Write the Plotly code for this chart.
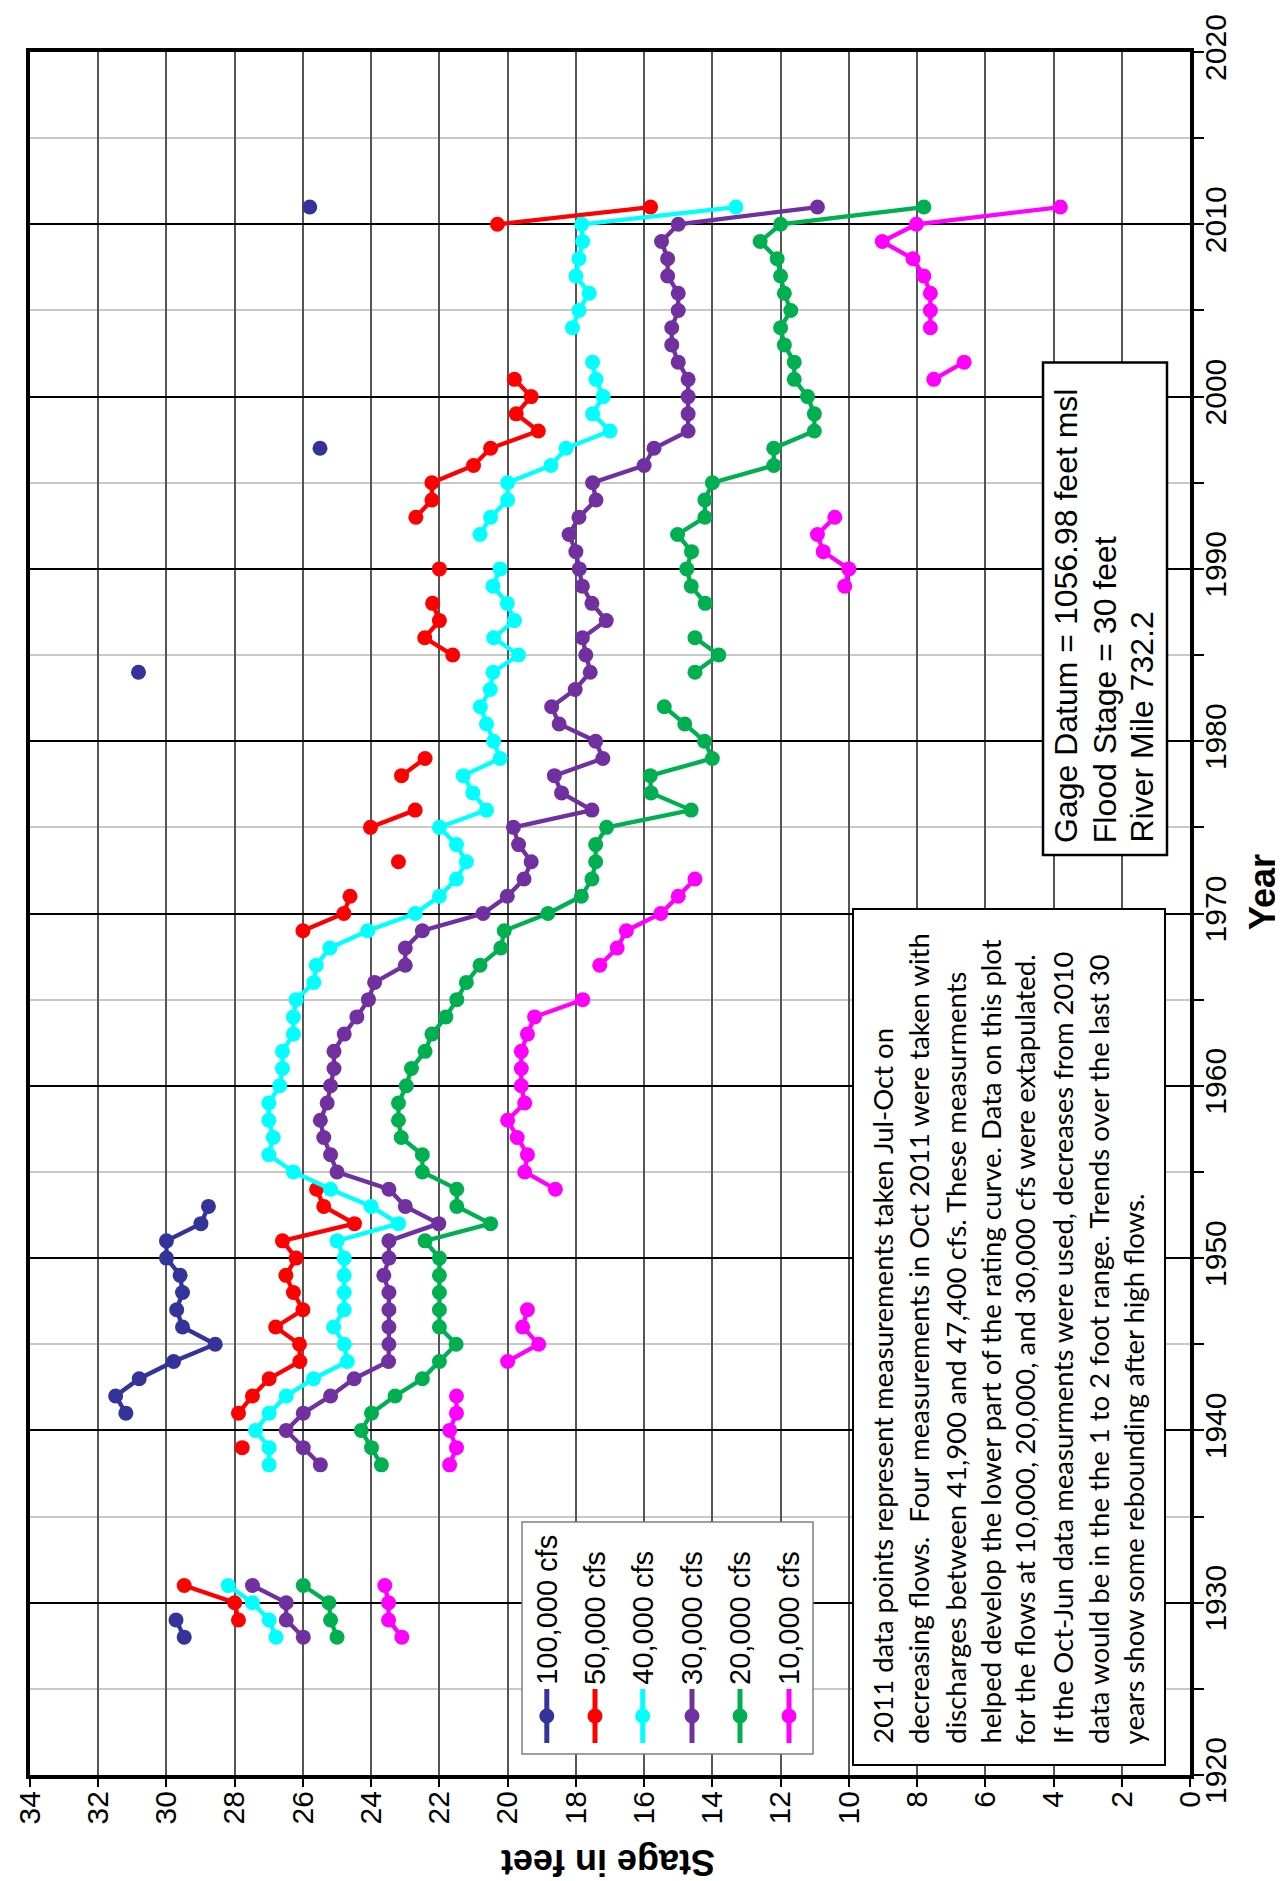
import plotly.graph_objects as go

# ---------------- data ----------------
series_names = ["100,000 cfs", "50,000 cfs", "40,000 cfs", "30,000 cfs", "20,000 cfs", "10,000 cfs"]
series_colors = ["#333399", "#FF0000", "#00FFFF", "#7030A0", "#00B050", "#FF00FF"]

years_100k = [1928, 1929, None, 1941, 1942, 1943, 1944, 1945, 1946, 1947, 1948, 1949, 1950, 1951, 1952, 1953,
              None, 1984, None, 1997, None, 2011]
stage_100k = [29.48, 29.72, None, 31.19, 31.49, 30.8, 29.79, 28.57, 29.53, 29.7, 29.53, 29.6, 30.0, 30.0, 28.99, 28.77,
              None, 30.82, None, 25.5, None, 25.8]

years_50k = [1929, 1930, 1931, None, 1939, None, 1941, 1942, 1943, 1944, 1945, 1946, 1947, 1948, 1949, 1950, 1951,
             1952, 1953, 1954, None, 1969, 1970, 1971, None, 1973, None, 1975, 1976, None, 1978, 1979, None,
             1985, 1986, 1987, 1988, None, 1990, None, 1993, 1994, 1995, 1996, 1997, 1998, 1999, 2000, 2001,
             None, 2010, 2011]
stage_50k = [27.89, 28.0, 29.48, None, 27.78, None, 27.89, 27.48, 26.99, 26.09, 26.1, 26.8, 26.0, 26.28, 26.5, 26.2,
             26.6, 24.49, 25.39, 25.6, None, 26.0, 24.8, 24.62, None, 23.2, None, 24.02, 22.71, None, 23.11, 22.42,
             None, 21.61, 22.43, 22.0, 22.2, None, 22.0, None, 22.69, 22.22, 22.22, 21.0, 20.5, 19.1, 19.75,
             19.31, 19.8, None, 20.3, 15.81]

years_40k = [1928, 1929, 1930, 1931, None] + list(range(1938, 1991)) + [None] + list(range(1992, 2003)) + [None] + \
    list(range(2004, 2012))
stage_40k = [26.79, 26.99, 27.48, 28.19, None,
             26.99, 26.99, 27.39, 26.99, 26.49, 25.69, 24.7, 24.79, 25.1, 24.79, 24.79, 24.79, 24.79, 25.0,
             23.2, 24.0, 25.19, 26.28, 27.0, 26.87, 27.0, 27.0, 26.68, 26.6, 26.6, 26.28, 26.28, 26.2, 25.68,
             25.61, 25.21, 24.1, 22.71, 22.0, 21.5, 21.21, 21.5, 22.0, 20.62, 21.02, 21.3, 20.22, 20.41, 20.62,
             20.8, 20.51, 20.43, 19.68, 20.41, 19.8, 20.01, 20.43, 20.22, None,
             20.81, 20.5, 20.0, 20.0, 18.73, 18.29, 17.0, 17.51, 17.2, 17.41, 17.51, None,
             18.1, 17.91, 17.61, 18.0, 17.91, 17.8, 17.83, 13.31]

years_30k = [1928, 1929, 1930, 1931, None] + list(range(1938, 2012))
stage_30k = [25.99, 26.49, 26.49, 27.48, None,
             25.49, 25.99, 26.49, 25.99, 25.19, 24.5, 23.49, 23.48, 23.48, 23.48, 23.48, 23.63, 23.48, 23.48,
             22.02, 23.0, 23.48, 25.0, 25.19, 25.39, 25.49, 25.29, 25.19, 25.09, 25.09, 24.79, 24.42, 24.08,
             23.9, 23.0, 23.0, 22.5, 20.72, 20.01, 19.52, 19.31, 19.68, 19.83, 17.53, 18.42, 18.63, 17.21,
             17.42, 18.49, 18.71, 18.02, 17.58, 17.71, 17.81, 17.11, 17.53, 17.81, 17.9, 18.0, 18.2, 17.91,
             17.41, 17.51, 16.0, 15.71, 14.71, 14.71, 14.71, 14.71, 15.0, 15.19, 15.19, 15.0, 15.0, 15.31,
             15.31, 15.49, 15.0, 10.92]

years_20k = [1928, 1929, 1930, 1931, None] + list(range(1938, 1983)) + [None, 1984, 1985, 1986, None] + \
    list(range(1988, 2012))
stage_20k = [25.0, 25.19, 25.24, 25.99, None,
             23.7, 23.99, 24.29, 23.99, 23.3, 22.5, 22.0, 21.51, 22.0, 22.0, 22.0, 22.0, 22.0, 22.42, 20.5,
             21.49, 21.49, 22.5, 22.5, 23.12, 23.2, 23.2, 22.97, 22.82, 22.42, 22.22, 21.81, 21.49, 21.21,
             20.81, 20.2, 20.1, 18.82, 17.84, 17.53, 17.42, 17.42, 17.1, 14.62, 15.8, 15.82, 14.0, 14.23,
             14.81, 15.41, None, 14.51, 13.81, 14.51, None,
             14.21, 14.62, 14.75, 14.61, 15.02, 14.22, 14.22, 14.0, 12.2, 12.2, 11.01, 11.01, 11.21, 11.6,
             11.6, 11.89, 12.0, 11.7, 11.89, 12.0, 12.1, 12.6, 12.0, 7.8]

years_10k = [1928, 1929, 1930, 1931, None, 1938, 1939, 1940, 1941, 1942, None, 1944, 1945, 1946, 1947, None] + \
    list(range(1954, 1966)) + [None] + list(range(1967, 1973)) + [None] + list(range(1989, 1994)) + \
    [None, 2001, 2002, None] + list(range(2004, 2012))
stage_10k = [23.1, 23.49, 23.49, 23.6, None, 21.7, 21.5, 21.7, 21.5, 21.5, None, 20.0, 19.09, 19.56, 19.42, None,
             18.6, 19.5, 19.42, 19.72, 20.0, 19.5, 19.6, 19.6, 19.6, 19.42, 19.21, 17.8, None,
             17.3, 16.79, 16.52, 15.51, 15.0, 14.51, None,
             10.12, 10.0, 10.75, 10.92, 10.41, None, 7.51, 6.62, None,
             7.61, 7.61, 7.61, 7.8, 8.12, 9.02, 8.02, 3.8]

all_years = [years_100k, years_50k, years_40k, years_30k, years_20k, years_10k]
all_stage = [stage_100k, stage_50k, stage_40k, stage_30k, stage_20k, stage_10k]

note_lines = [
    "2011 data points represent measurements taken Jul-Oct on",
    "decreasing flows.  Four measurements in Oct 2011 were taken with",
    "discharges between 41,900 and 47,400 cfs. These measurments",
    "helped develop the lower part of the rating curve. Data on this plot",
    "for the flows at 10,000, 20,000, and 30,000 cfs were extapulated.",
    "If the Oct-Jun data measurments were used, decreases from 2010",
    "data would be in the the 1 to 2 foot range. Trends over the last 30",
    "years show some rebounding after high flows.",
]
gage_lines = ["Gage Datum = 1056.98 feet msl", "Flood Stage = 30 feet", "River Mile 732.2"]

# ---------------- layout helpers ----------------
W, H = 1283, 1881
L, R, T, B = 22, 101, 44, 114
PW, PH = W - L - R, H - T - B


def px(x):
    return (x - L) / PW


def py(y):
    return (H - B - y) / PH


ARIAL = "Arial, Liberation Sans, sans-serif"

fig = go.Figure()
for name, yrs, stg, col in zip(series_names, all_years, all_stage, series_colors):
    fig.add_trace(go.Scatter(
        x=stg, y=yrs, mode="lines+markers", name=name, connectgaps=False,
        line=dict(color=col, width=4.3), marker=dict(color=col, size=15),
        showlegend=False, hoverinfo="x+y"))

shapes = []
annotations = []

# legend box
shapes.append(dict(type="rect", xref="paper", yref="paper", x0=px(514), x1=px(805), y0=py(1746), y1=py(1514),
                   line=dict(color="#808080", width=1.5), fillcolor="white", layer="above"))
leg_x = [538.8, 587, 634.7, 684, 732, 781]
for xc, name, col in zip(leg_x, series_names, series_colors):
    shapes.append(dict(type="line", xref="paper", yref="paper", x0=px(xc), x1=px(xc), y0=py(1735), y1=py(1681),
                       line=dict(color=col, width=5), layer="above"))
    r = 7.5
    shapes.append(dict(type="circle", xref="paper", yref="paper", x0=px(xc - r), x1=px(xc + r),
                       y0=py(1708 + r), y1=py(1708 - r), line=dict(color=col, width=0), fillcolor=col,
                       layer="above"))
    annotations.append(dict(text=name, xref="paper", yref="paper", x=px(xc), y=py(1678), xanchor="center",
                            yanchor="bottom", textangle=-90, showarrow=False, borderpad=0,
                            font=dict(family=ARIAL, size=29, color="black")))

# note box
shapes.append(dict(type="rect", xref="paper", yref="paper", x0=px(845), x1=px(1157), y0=py(1757), y1=py(901),
                   line=dict(color="black", width=2), fillcolor="white", layer="above"))
note_x = [873.7, 910.6, 946.7, 981.6, 1016.4, 1054, 1089.9, 1125.9]
for xc, line in zip(note_x, note_lines):
    annotations.append(dict(text=line, xref="paper", yref="paper", x=px(xc), y=py(1737), xanchor="center",
                            yanchor="bottom", textangle=-90, showarrow=False, borderpad=0,
                            font=dict(family="Lato, Carlito, sans-serif", size=27.5, color="black")))

# gage box
shapes.append(dict(type="rect", xref="paper", yref="paper", x0=px(1035), x1=px(1159), y0=py(847), y1=py(354.5),
                   line=dict(color="black", width=2.5), fillcolor="white", layer="above"))
gage_x = [1058, 1096.7, 1133]
for xc, line in zip(gage_x, gage_lines):
    annotations.append(dict(text=line, xref="paper", yref="paper", x=px(xc), y=py(836), xanchor="center",
                            yanchor="bottom", textangle=-90, showarrow=False, borderpad=0,
                            font=dict(family=ARIAL, size=32, color="black")))

# axis titles
annotations.append(dict(text="<b>Stage in feet</b>", xref="paper", yref="paper", x=px(600), y=py(1855),
                        xanchor="center", yanchor="middle", textangle=180, showarrow=False,
                        font=dict(family=ARIAL, size=36, color="black")))
annotations.append(dict(text="<b>Year</b>", xref="paper", yref="paper", x=px(1254), y=py(884),
                        xanchor="center", yanchor="middle", textangle=-90, showarrow=False,
                        font=dict(family=ARIAL, size=36, color="black")))

fig.update_layout(
    width=W, height=H, margin=dict(l=L, r=R, t=T, b=B, autoexpand=False),
    paper_bgcolor="white", plot_bgcolor="white",
    shapes=shapes, annotations=annotations, showlegend=False,
    xaxis=dict(range=[34, 0], tick0=0, dtick=2, tickangle=-90, ticks="outside", ticklen=8, tickwidth=1.5,
               tickcolor="black", tickfont=dict(family=ARIAL, size=30, color="black"),
               showgrid=True, gridcolor="#555555", gridwidth=2, zeroline=False,
               showline=True, linewidth=4, linecolor="black", mirror=True, ticklabelstandoff=-8),
    yaxis=dict(range=[1920, 2020], side="right", tick0=1920, dtick=10, tickangle=-90, ticks="outside",
               ticklen=10, tickwidth=1.5, tickcolor="black", tickfont=dict(family=ARIAL, size=30, color="black"),
               showgrid=True, gridcolor="black", gridwidth=1.5, zeroline=False,
               showline=True, linewidth=4, linecolor="black", mirror=True, ticklabelstandoff=-14,
               minor=dict(dtick=5, ticks="outside", ticklen=10, tickwidth=1.5, tickcolor="black",
                          showgrid=True, gridcolor="#c8c8c8", gridwidth=1.5)),
)

fig.write_html("out.html")
